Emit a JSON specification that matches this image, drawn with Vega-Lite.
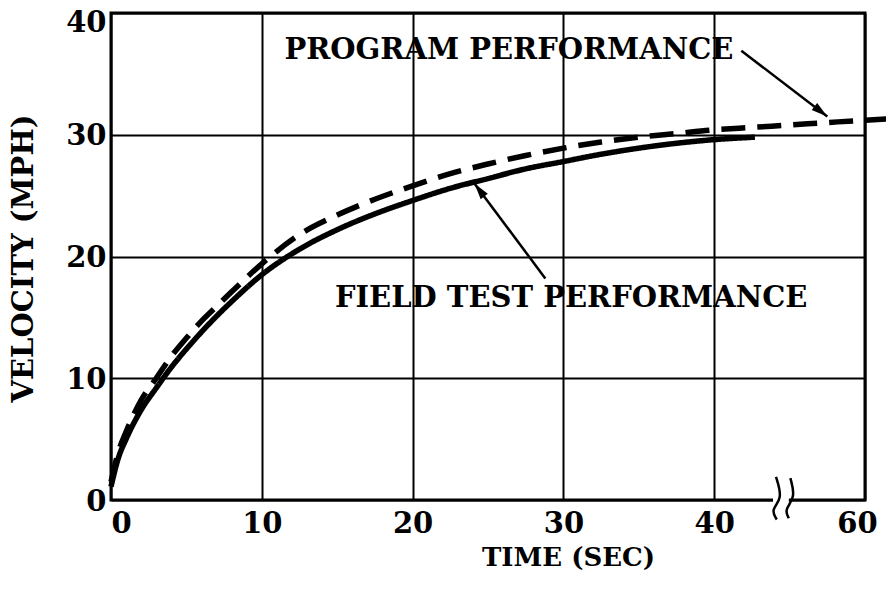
{
  "$schema": "https://vega.github.io/schema/vega-lite/v6.json",
  "width": 754,
  "height": 487,
  "autosize": {"type": "none"},
  "padding": {"left": 111, "top": 13, "right": 21, "bottom": 90},
  "background": "white",
  "config": {
    "view": {"stroke": "black", "strokeWidth": 3},
    "axis": {
      "domain": false, "ticks": false, "grid": true,
      "gridColor": "black", "gridWidth": 2, "gridOpacity": 1,
      "labelFont": "DejaVu Serif", "labelFontWeight": "bold", "labelFontSize": 29, "labelColor": "black",
      "titleFont": "DejaVu Serif", "titleFontWeight": "bold", "titleFontSize": 26, "titleColor": "black"
    }
  },
  "datasets": {
    "curves": [
      {"series": "Program", "t": 0, "v": 1.5},
      {"series": "Program", "t": 0.5, "v": 4.0},
      {"series": "Program", "t": 1, "v": 5.6},
      {"series": "Program", "t": 2, "v": 8.2},
      {"series": "Program", "t": 3, "v": 10.0},
      {"series": "Program", "t": 4, "v": 11.8},
      {"series": "Program", "t": 5, "v": 13.3},
      {"series": "Program", "t": 6, "v": 14.7},
      {"series": "Program", "t": 7, "v": 15.9},
      {"series": "Program", "t": 8, "v": 17.1},
      {"series": "Program", "t": 10, "v": 19.4},
      {"series": "Program", "t": 12.5, "v": 21.8},
      {"series": "Program", "t": 15, "v": 23.4},
      {"series": "Program", "t": 17.5, "v": 24.7},
      {"series": "Program", "t": 20, "v": 25.8},
      {"series": "Program", "t": 22.5, "v": 26.8},
      {"series": "Program", "t": 25, "v": 27.6},
      {"series": "Program", "t": 27.5, "v": 28.3},
      {"series": "Program", "t": 30, "v": 28.9},
      {"series": "Program", "t": 32.5, "v": 29.4},
      {"series": "Program", "t": 35, "v": 29.8},
      {"series": "Program", "t": 37.5, "v": 30.1},
      {"series": "Program", "t": 40, "v": 30.4},
      {"series": "Program", "t": 42.5, "v": 30.6},
      {"series": "Program", "t": 45, "v": 30.8},
      {"series": "Program", "t": 47.5, "v": 31.0},
      {"series": "Program", "t": 50, "v": 31.2},
      {"series": "Program", "t": 51.4, "v": 31.3},
      {"series": "Field test", "t": 0, "v": 1.1},
      {"series": "Field test", "t": 0.5, "v": 3.5},
      {"series": "Field test", "t": 1, "v": 5.0},
      {"series": "Field test", "t": 2, "v": 7.4},
      {"series": "Field test", "t": 3, "v": 9.2},
      {"series": "Field test", "t": 4, "v": 10.9},
      {"series": "Field test", "t": 5, "v": 12.4},
      {"series": "Field test", "t": 6, "v": 13.8},
      {"series": "Field test", "t": 7, "v": 15.1},
      {"series": "Field test", "t": 8, "v": 16.3},
      {"series": "Field test", "t": 10, "v": 18.5},
      {"series": "Field test", "t": 12.5, "v": 20.6},
      {"series": "Field test", "t": 15, "v": 22.2},
      {"series": "Field test", "t": 17.5, "v": 23.5},
      {"series": "Field test", "t": 20, "v": 24.6},
      {"series": "Field test", "t": 22.5, "v": 25.6},
      {"series": "Field test", "t": 25, "v": 26.4},
      {"series": "Field test", "t": 27.5, "v": 27.2},
      {"series": "Field test", "t": 30, "v": 27.8},
      {"series": "Field test", "t": 32.5, "v": 28.4},
      {"series": "Field test", "t": 35, "v": 28.9},
      {"series": "Field test", "t": 37.5, "v": 29.3},
      {"series": "Field test", "t": 40, "v": 29.6},
      {"series": "Field test", "t": 42.7, "v": 29.8}
    ],
    "labels": [
      {"text": "PROGRAM PERFORMANCE", "t": 11.5, "v": 36.2},
      {"text": "FIELD TEST PERFORMANCE", "t": 14.85, "v": 15.85}
    ],
    "arrows": [
      {"name": "program", "t": 41.8, "v": 36.9, "t2": 47.5, "v2": 31.5},
      {"name": "field", "t": 28.8, "v": 18.2, "t2": 24.1, "v2": 26.0}
    ],
    "breaks": [
      {"mark": "b1", "t": 44.1, "v": 1.9},
      {"mark": "b1", "t": 44.55, "v": 0.1},
      {"mark": "b1", "t": 43.75, "v": -0.8},
      {"mark": "b1", "t": 44.15, "v": -1.6},
      {"mark": "b2", "t": 45.05, "v": 1.8},
      {"mark": "b2", "t": 45.4, "v": 0.2},
      {"mark": "b2", "t": 44.65, "v": -0.8},
      {"mark": "b2", "t": 44.95, "v": -1.5}
    ],
    "gap": [
      {"t": 43.9, "t2": 44.95, "v": -0.25, "v2": 0.25}
    ]
  },
  "encoding": {
    "x": {
      "field": "t", "type": "quantitative",
      "scale": {"domain": [0, 50], "nice": false, "zero": false},
      "axis": {
        "values": [0, 10, 20, 30, 40, 50],
        "labelExpr": "datum.value == 50 ? '60' : datum.label",
        "labelPadding": 9,
        "labelAlign": {"condition": {"test": "datum.value == 0", "value": "left"}, "value": "center"},
        "labelOffset": {"condition": {"test": "datum.value == 50", "value": -8}, "value": 0},
        "title": "TIME (SEC)",
        "titleX": 457, "titleY": 65, "titleBaseline": "alphabetic", "titleAnchor": null
      }
    },
    "y": {
      "field": "v", "type": "quantitative",
      "scale": {"domain": [0, 40], "nice": false, "zero": false},
      "axis": {
        "values": [0, 10, 20, 30, 40],
        "labelPadding": 5,
        "labelBaseline": "middle",
        "labelOffset": {"condition": {"test": "datum.value == 40", "value": 9}, "value": 1},
        "title": "VELOCITY (MPH)",
        "titleFontSize": 29,
        "titleX": -88, "titleY": 245, "titleAngle": -90, "titleBaseline": "middle", "titleAlign": "center"
      }
    }
  },
  "layer": [
    {
      "data": {"name": "curves"},
      "mark": {"type": "line", "strokeWidth": 5.5, "color": "black", "interpolate": "monotone", "clip": false, "strokeCap": "butt"},
      "encoding": {
        "detail": {"field": "series"},
        "strokeDash": {
          "field": "series", "type": "nominal",
          "scale": {"domain": ["Field test", "Program"], "range": [[1, 0], [24, 12]]},
          "legend": null
        }
      }
    },
    {
      "data": {"name": "gap"},
      "mark": {"type": "rect", "color": "white"},
      "encoding": {"x2": {"field": "t2"}, "y2": {"field": "v2"}}
    },
    {
      "data": {"name": "breaks"},
      "mark": {"type": "line", "strokeWidth": 2.5, "color": "black", "interpolate": "basis"},
      "encoding": {"detail": {"field": "mark"}, "order": {"field": "v", "sort": "descending"}}
    },
    {
      "data": {"name": "labels"},
      "mark": {"type": "text", "align": "left", "baseline": "alphabetic", "font": "DejaVu Serif", "fontWeight": "bold", "fontSize": 29, "color": "black"},
      "encoding": {"text": {"field": "text"}}
    },
    {
      "data": {"name": "arrows"},
      "mark": {"type": "rule", "strokeWidth": 2.5, "color": "black"},
      "encoding": {"x2": {"field": "t2"}, "y2": {"field": "v2"}}
    },
    {
      "data": {"name": "arrows"},
      "transform": [{"filter": "datum.name == 'program'"}],
      "mark": {"type": "point", "filled": true, "color": "black", "opacity": 1, "size": 220, "angle": 128, "shape": "M0,0L0.6,2.2L-0.6,2.2Z"},
      "encoding": {"x": {"field": "t2", "type": "quantitative"}, "y": {"field": "v2", "type": "quantitative"}}
    },
    {
      "data": {"name": "arrows"},
      "transform": [{"filter": "datum.name == 'field'"}],
      "mark": {"type": "point", "filled": true, "color": "black", "opacity": 1, "size": 220, "angle": -37, "shape": "M0,0L0.6,2.2L-0.6,2.2Z"},
      "encoding": {"x": {"field": "t2", "type": "quantitative"}, "y": {"field": "v2", "type": "quantitative"}}
    }
  ]
}
